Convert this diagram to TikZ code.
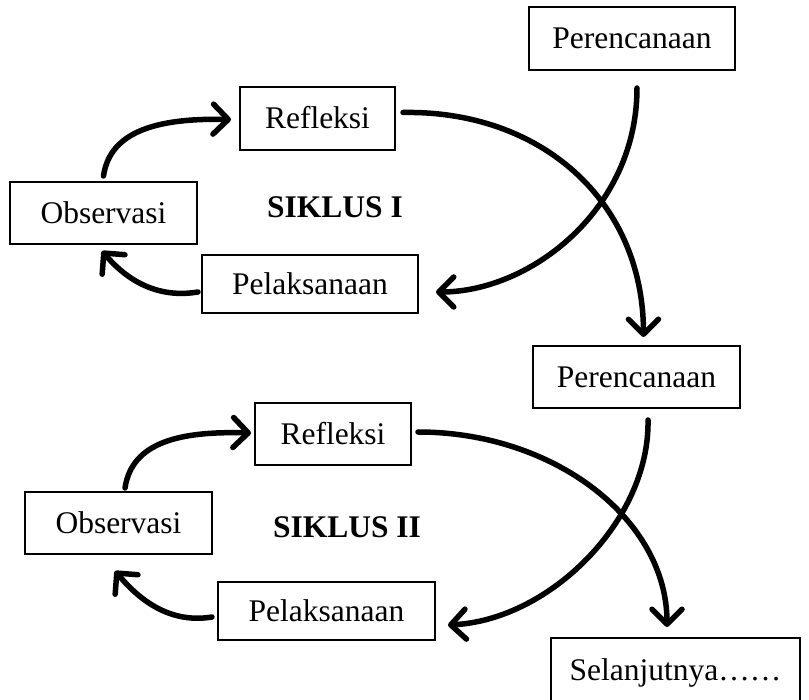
\documentclass[tikz,border=0pt]{standalone}
\usepackage{fontspec}
\setmainfont{Liberation Serif}
\usetikzlibrary{arrows.meta}
\tikzset{
  box/.style={draw, line width=2pt, inner sep=0pt, align=center,
    font=\fontsize{31.5}{36}\selectfont, text height=21pt, text depth=0pt},
  title/.style={font=\fontsize{31.5}{36}\selectfont\bfseries, inner sep=0pt, text height=21pt, text depth=0pt},
  arr/.style={line width=5.5pt, line cap=round,
    -{Straight Barb[length=15pt, width=30pt, line cap=round, line join=round]}}
}
\begin{document}
\begin{tikzpicture}[x=1pt, y=-1pt]
\clip (0,0) rectangle (809,700);
% cycle I
\node[box, minimum width=206pt, minimum height=63pt] (perc1) at (632,38.5) {Perencanaan};
\node[box, minimum width=155pt, minimum height=63pt] (ref1) at (317.5,118.5) {Refleksi};
\node[box, minimum width=187pt, minimum height=62pt] (obs1) at (103.5,213) {Observasi};
\node[box, minimum width=216pt, minimum height=58pt] (pel1) at (310,284) {Pelaksanaan};
\node[title] (s1) at (335,207) {SIKLUS I};
% cycle II
\node[box, minimum width=207pt, minimum height=62pt] (perc2) at (636.5,377) {Perencanaan};
\node[box, minimum width=156pt, minimum height=62pt] (ref2) at (333,434) {Refleksi};
\node[box, minimum width=187pt, minimum height=62pt] (obs2) at (118.5,523) {Observasi};
\node[box, minimum width=217pt, minimum height=58pt] (pel2) at (326.5,611) {Pelaksanaan};
\node[title] (s2) at (347,527) {SIKLUS II};
\node[box, minimum width=249pt, minimum height=64pt] (sel) at (675.5,670) {Selanjutnya\ldots\ldots};
% connectors cycle I
\draw[arr] ([yshift=5pt]obs1.north) .. controls (110,130) and (160,118) .. ([xshift=-8pt,yshift=-1pt]ref1.west);
\draw[arr] ([xshift=-3pt,yshift=-8pt]pel1.west) .. controls (150,300) and (120,272) .. ([xshift=-1.5pt,yshift=-6pt]obs1.south);
\draw[arr] ([xshift=7pt,yshift=6pt]ref1.east) .. controls (540,110) and (643,200) .. ([xshift=7pt,yshift=8pt]perc2.north);
\draw[arr] ([xshift=5pt,yshift=-17pt]perc1.south) .. controls (637,210) and (530,292) .. ([xshift=17pt,yshift=-8pt]pel1.east);
% connectors cycle II
\draw[arr] ([xshift=6.5pt,yshift=3pt]obs2.north) .. controls (132,442) and (180,431) .. ([xshift=-3pt,yshift=1pt]ref2.west);
\draw[arr] ([xshift=-5pt,yshift=-6pt]pel2.west) .. controls (164,625) and (133,592) .. ([xshift=-3.5pt,yshift=-16pt]obs2.south);
\draw[arr] ([xshift=6pt,yshift=2pt]ref2.east) .. controls (555,432) and (667,520) .. ([xshift=-8.5pt,yshift=10pt]sel.north);
\draw[arr] ([xshift=11.5pt,yshift=-11pt]perc2.south) .. controls (650,520) and (550,620) .. ([xshift=12pt,yshift=-14pt]pel2.east);
\end{tikzpicture}
\end{document}
